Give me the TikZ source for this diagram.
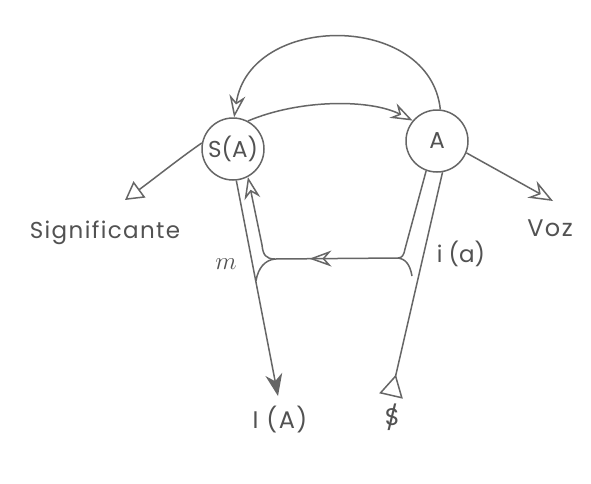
\documentclass[tikz,border=0pt]{standalone}
\usepackage{fontspec}
\setmainfont{Poppins}
\newfontfamily\widefont[LetterSpace=6]{Poppins}
\usetikzlibrary{arrows.meta,decorations.markings}
\tikzset{
  tri/.tip={Triangle[open,length=18pt,width=20pt]},
  trirev/.tip={Triangle[open,reversed,length=22pt,width=24pt]},
  hd/.tip={Stealth[open,length=22pt,width=16pt,inset=7pt]}
}
\begin{document}
\begin{tikzpicture}[x=1pt,y=-1pt,
  ln/.style={draw=black!60,line width=1.5pt},
  lbl/.style={text=black!68,inner sep=0pt,font=\fontsize{23}{23}\selectfont},
  circ/.style={circle,draw=black!60,line width=1.5pt,minimum size=62pt,inner sep=0pt,text=black!68,font=\fontsize{23}{23}\selectfont},
  midleft/.style={postaction={decorate},decoration={markings,mark=at position 0.72 with {\arrow{hd}}}}
]
\useasboundingbox (0,0) rectangle (591,483);
\fill[white] (0,0) rectangle (591,483);

% circles
\node[circ] (sa) at (233,149) {S(A)};
\node[circ] (a) at (437,141) {A};

% labels
\node[lbl,font=\widefont\fontsize{23}{23}\selectfont] (sig) at (105,233) {Significante};
\node[lbl,font=\widefont\fontsize{24}{24}\selectfont] (voz) at (550,228) {Voz};
\node[lbl] (ia) at (461,254) {i (a)};
\node[lbl,font=\fontsize{28}{28}\selectfont] (m) at (226,264) {$m$};
\node[lbl,font=\widefont\fontsize{24}{24}\selectfont] (IA) at (280,420) {I (A)};
\node[lbl,font=\fontsize{24}{24}\selectfont] (bs) at (392,420) {\ooalign{S\cr\hidewidth\raisebox{-1pt}{/}\hidewidth}};

% coordinates
\coordinate (sigtail) at (125,200);
\coordinate (voztip) at (553,201);
\coordinate (iatip) at (278,396);
\coordinate (bstail) at (391,396);
\coordinate (jl) at (275,259);
\coordinate (jr) at (398,258);

% top arc A -> S(A)
\draw[ln,-hd] (a.84) .. controls (430,12) and (250,12) .. (sa.88);
% middle arc S(A) -> A
\draw[ln,-hd] (sa.62) .. controls (300,99) and (370,99) .. (a.140);
% significante
\draw[ln,tri-] (sigtail) .. controls (155,178) and (180,158) .. (sa.169);
% voz
\draw[ln,-{Stealth[open,length=24pt,width=19pt,inset=8pt]}] (a.-22) -- (voztip);
% outer left
\draw[ln,-{Stealth[length=22pt,width=17pt,inset=7pt]}] (sa.-84) -- (iatip);
% outer right
\draw[ln,trirev-] (bstail) -- (a.-80);
% horizontal
\draw[ln,midleft] (jr) -- (jl);
% left branches
\draw[ln,-hd] (jl) .. controls (266,259) and (263,255) .. (262,245) -- (sa.-62);
\draw[ln] (jl) .. controls (265,260) and (258,268) .. (256,281);
% right branches
\draw[ln] (jr) .. controls (402,258) and (404,255) .. (405,249) -- (a.-110);
\draw[ln] (jr) .. controls (406,259) and (410,265) .. (412,276);
\end{tikzpicture}
\end{document}
